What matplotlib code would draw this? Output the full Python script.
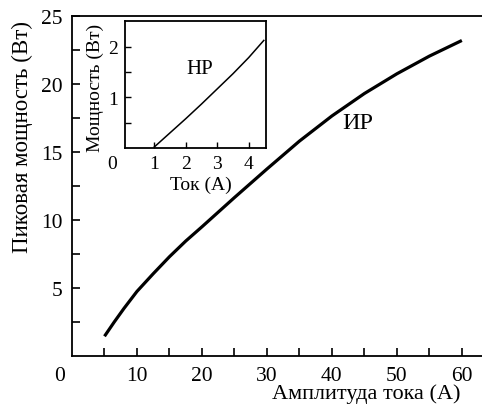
import matplotlib
matplotlib.use("Agg")
from matplotlib import pyplot as plt

plt.rcParams['font.family'] = ['Liberation Serif', 'DejaVu Serif']

# main curve (impulse mode)
current_amp = [5.0, 6.5, 8.0, 10, 12.5, 15, 17.5, 20, 25, 30, 35, 40, 45, 50, 55, 60]
peak_power = [1.45, 2.5, 3.5, 4.75, 6.05, 7.3, 8.45, 9.5, 11.65, 13.75, 15.8, 17.65, 19.3,
              20.75, 22.05, 23.2]

# inset curve (continuous mode)
inset_current = [1.0, 1.5, 2.0, 2.5, 3.0, 3.5, 4.0, 4.48]
inset_power = [0.02, 0.3, 0.58, 0.87, 1.17, 1.47, 1.79, 2.13]

fig = plt.figure(figsize=(4.82, 4.06), dpi=100)
ax = fig.add_axes([72 / 482, 1 - 357 / 406, 1 - 72 / 482, 340 / 406])

ax.plot(current_amp, peak_power, color='black', lw=2.3, solid_capstyle='butt')
ax.set_xlim(0, 63.1)
ax.set_ylim(0, 25)
ax.set_xticks([5, 10, 15, 20, 25, 30, 35, 40, 45, 50, 55, 60])
ax.set_xticklabels(['', '10', '', '20', '', '30', '', '40', '', '50', '', '60'])
ax.set_yticks([2.5, 5, 7.5, 10, 12.5, 15, 17.5, 20, 22.5, 25])
ax.set_yticklabels(['', '5', '', '10', '', '15', '', '20', '', '25'])
ax.tick_params(direction='in', length=6, width=1.2, labelsize=15.5, pad=7)
ax.spines['right'].set_visible(False)
for s in ['left', 'bottom', 'top']:
    ax.spines[s].set_linewidth(1.3)
ax.annotate('0', xy=(0, 0), xytext=(-9, -7), textcoords='offset points',
            ha='center', va='top', fontsize=15.5)
ax.text(44, 17.2, 'ИР', fontsize=17.5, ha='center', va='center')

fig.text(366 / 482, 1 - 394 / 406, 'Амплитуда тока (А)', fontsize=16,
         ha='center', va='center')
fig.text(22 / 482, 1 - 137 / 406, 'Пиковая мощность (Вт)', fontsize=16.5,
         ha='center', va='center', rotation=90)

# inset
ins = fig.add_axes([125 / 482, 1 - 149 / 406, (265.7 - 125) / 482, (149 - 21.7) / 406])
ins.plot(inset_current, inset_power, color='black', lw=1.1)
ins.set_xlim(0.07, 4.54)
ins.set_ylim(0, 2.52)
ins.set_xticks([1, 2, 3, 4])
ins.set_yticks([0.5, 1, 1.5, 2])
ins.set_yticklabels(['', '1', '', '2'])
ins.tick_params(direction='in', length=4, width=1.0, labelsize=14, pad=5)
for s in ins.spines.values():
    s.set_linewidth(1.3)
ins.annotate('0', xy=(0.07, 0), xytext=(-9, -5), textcoords='offset points',
             ha='center', va='top', fontsize=14)
ins.text(2.45, 1.57, 'НР', fontsize=15, ha='center', va='center')
fig.text(201 / 482, 1 - 185 / 406, 'Ток (А)', fontsize=14, ha='center', va='center')
fig.text(95 / 482, 1 - 88 / 406, 'Мощность (Вт)', fontsize=14, ha='center',
         va='center', rotation=90)

fig.savefig('out.png', dpi=100)
